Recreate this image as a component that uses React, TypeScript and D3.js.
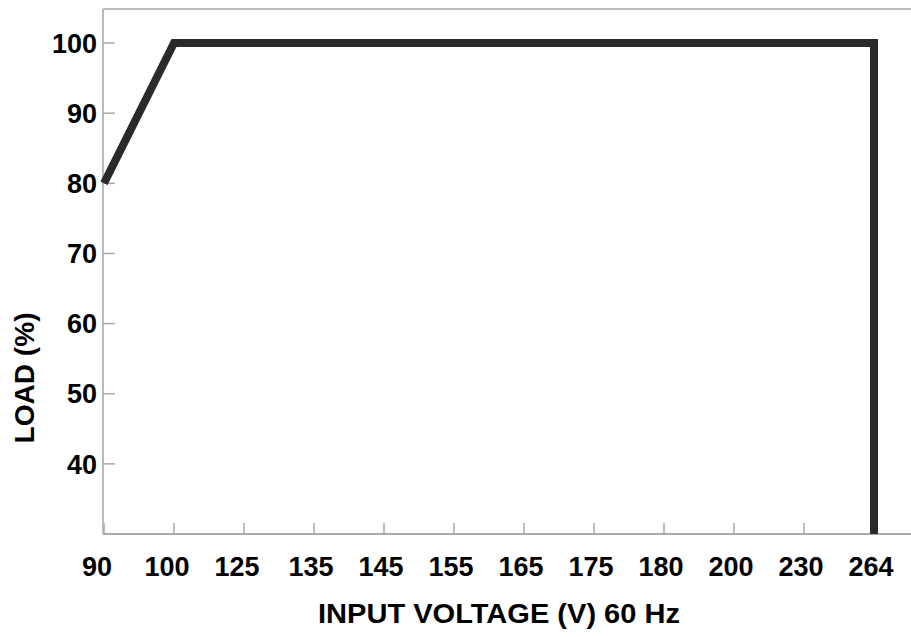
import * as d3 from "d3";

const categories = ["90", "100", "125", "135", "145", "155", "165", "175", "180", "200", "230", "264"];
const yTicks = [40, 50, 60, 70, 80, 90, 100];
const curveX = ["90", "100", "264", "264"];
const curveY = [80, 100, 100, 30];

export default function App() {
  const W = 911, H = 637;
  const left = 103, top = 9, bottom = 534, right = 911;
  const x = d3.scalePoint<string>().domain(categories).range([104, 874]);
  const y = d3.scaleLinear().domain([30, 104.85]).range([bottom, top]);
  const pts: [number, number][] = curveX.map((c, i) => [x(c) as number, y(curveY[i])]);
  const line = d3.line()(pts) as string;
  const font = "'Liberation Sans', Arial, sans-serif";
  const fs = 27;
  return (
    <svg width={W} height={H} style={{ position: "absolute", left: 0, top: 0, background: "#fff" }}>
      <line x1={left} y1={top} x2={right} y2={top} stroke="#bbb" strokeWidth={2} />
      <line x1={left} y1={top} x2={left} y2={bottom} stroke="#bbb" strokeWidth={2} />
      <line x1={left} y1={bottom} x2={right} y2={bottom} stroke="#aaa" strokeWidth={2} />
      {yTicks.map((t) => (
        <g key={t}>
          <line x1={left} x2={left + 12} y1={y(t)} y2={y(t)} stroke="#aaa" strokeWidth={1.5} />
          <text x={97} y={y(t)} dy="0.36em" textAnchor="end" fontFamily={font} fontWeight="bold" fontSize={fs}>{t}</text>
        </g>
      ))}
      {categories.map((c, i) => (
        <g key={c}>
          <line x1={x(c)} x2={x(c)} y1={bottom} y2={bottom - 11} stroke="#aaa" strokeWidth={1.5} />
          <text x={(x(c) as number) - (i < 3 ? 7 : 3)} y={576} textAnchor="middle" fontFamily={font} fontWeight="bold" fontSize={fs}>{c}</text>
        </g>
      ))}
      <path d={line} fill="none" stroke="#2a2a2a" strokeWidth={8} strokeLinejoin="miter" />
      <text transform="translate(34,378) rotate(-90)" textAnchor="middle" fontFamily={font} fontWeight="bold" fontSize={fs} textLength={131} lengthAdjust="spacingAndGlyphs">LOAD (%)</text>
      <text x={499} y={623} textAnchor="middle" fontFamily={font} fontWeight="bold" fontSize={fs} textLength={362} lengthAdjust="spacingAndGlyphs">INPUT VOLTAGE (V) 60 Hz</text>
    </svg>
  );
}
